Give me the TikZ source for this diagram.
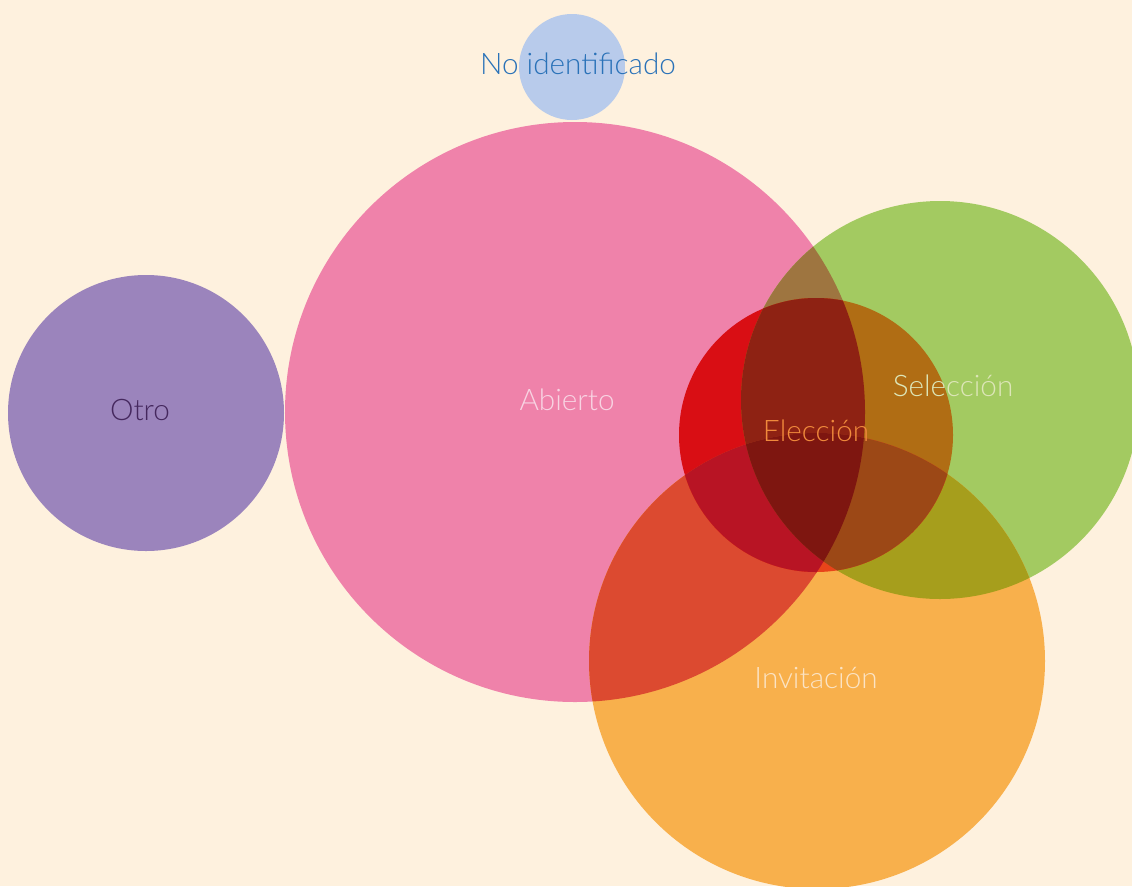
\documentclass[tikz,border=0pt]{standalone}
\usepackage{fontspec}
\setmainfont{Lato}[UprightFont={* Light}]
\usetikzlibrary{positioning}

\definecolor{fondo}{HTML}{FEF1DE}
\definecolor{azul}{HTML}{B8CBEB}
\definecolor{azultxt}{HTML}{2A72B8}
\definecolor{rosa}{HTML}{EF82AA}
\definecolor{rosatxt}{HTML}{F8D3E2}
\definecolor{morado}{HTML}{9B84BC}
\definecolor{moradotxt}{HTML}{45285E}
\definecolor{verde}{HTML}{A3CA61}
\definecolor{verdetxt}{HTML}{DDE6B8}
\definecolor{naranja}{HTML}{F8B04C}
\definecolor{naranjatxt}{HTML}{FBE3C4}
\definecolor{rojotxt}{HTML}{F08A3C}
% overlaps
\definecolor{rv}{HTML}{9E7540}
\definecolor{rn}{HTML}{DC4A30}
\definecolor{vn}{HTML}{A69E1C}
\definecolor{rr}{HTML}{D90E14}
\definecolor{vr}{HTML}{B06D14}
\definecolor{nr}{HTML}{E8441A}
\definecolor{rvr}{HTML}{8E2213}
\definecolor{rnr}{HTML}{B81424}
\definecolor{vnr}{HTML}{9C4816}
\definecolor{todos}{HTML}{7E1610}

\begin{document}
\begin{tikzpicture}[x=0.02cm,y=-0.02cm]
				\tikzset{etiqueta/.style={
						font=\fontsize{16.9}{19}\selectfont,
						inner sep=0pt
				}}
				
				\def\abierto{(575,412) circle (290)}
				\def\seleccion{(940,400) circle (199)}
				\def\invitacion{(817,661) circle (228)}
				\def\eleccion{(816,435) circle (137)}
				
				%% FONDO
				\fill[fondo] (0,0) rectangle (1132,886);
				\useasboundingbox (0,0) rectangle (1132,886);
				
				%% CONJUNTOS
				\fill[azul] (572,67) circle (53);
				\fill[morado] (146,413) circle (138);
				\fill[rosa] \abierto;
				\fill[verde] \seleccion;
				\fill[naranja] \invitacion;
				
				%% PARES
				\begin{scope}
					\clip \abierto;
					\fill[rv] \seleccion;
					\fill[rn] \invitacion;
					\fill[rr] \eleccion;
				\end{scope}
				\begin{scope}
					\clip \seleccion;
					\fill[vn] \invitacion;
					\fill[vr] \eleccion;
				\end{scope}
				\begin{scope}
					\clip \invitacion;
					\fill[nr] \eleccion;
				\end{scope}
				
				%% TRIPLES
				\begin{scope}
					\clip \abierto; \clip \seleccion;
					\fill[rvr] \eleccion;
				\end{scope}
				\begin{scope}
					\clip \abierto; \clip \invitacion;
					\fill[rnr] \eleccion;
				\end{scope}
				\begin{scope}
					\clip \seleccion; \clip \invitacion;
					\fill[vnr] \eleccion;
				\end{scope}
				\begin{scope}
					\clip \abierto; \clip \seleccion; \clip \invitacion;
					\fill[todos] \eleccion;
				\end{scope}
				
				%% ETIQUETAS
				\node[etiqueta, text=azultxt] (NoId) at (578,64) {No identificado};
				\node[etiqueta, text=rosatxt] (Abierto) at (567,400) {Abierto};
				\node[etiqueta, text=moradotxt] (Otro) at (140,410) {Otro};
				\node[etiqueta, text=verdetxt] (Seleccion) at (953,386) {Selección};
				\node[etiqueta, text=rojotxt] (Eleccion) at (816,431) {Elección};
				\node[etiqueta, text=naranjatxt] (Invitacion) at (816,678) {Invitación};
				
			\end{tikzpicture}
\end{document}
